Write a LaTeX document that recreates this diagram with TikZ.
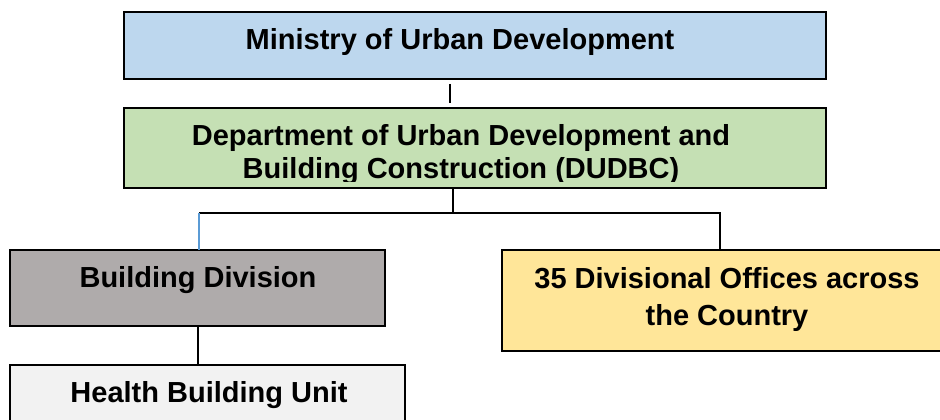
\documentclass[tikz,border=0pt]{standalone}
\usepackage{fontspec}
\setmainfont{Liberation Sans}
\definecolor{minblue}{HTML}{BDD7EE}
\definecolor{depgreen}{HTML}{C5E0B4}
\definecolor{divgray}{HTML}{AFABAB}
\definecolor{offyellow}{HTML}{FFE699}
\definecolor{unitgray}{HTML}{F2F2F2}
\definecolor{linkblue}{HTML}{5B9BD5}
\tikzset{
  orgbox/.style={draw=black, line width=2pt, inner sep=0pt, rectangle},
  orgtext/.style={font=\fontsize{29}{37}\selectfont\bfseries, align=center, inner sep=0pt, anchor=base},
  link/.style={line width=2pt, black},
}
\begin{document}
\begin{tikzpicture}[x=1pt,y=-1pt]
\useasboundingbox (0,0) rectangle (940,420);
\clip (0,0) rectangle (940,420);
% boxes
\node[orgbox, fill=minblue, minimum width=702pt, minimum height=67pt] (min) at (475,45.5) {};
\node[orgbox, fill=depgreen, minimum width=702pt, minimum height=80pt] (dep) at (475,148) {};
\node[orgbox, fill=divgray, minimum width=375pt, minimum height=76pt] (div) at (197.5,288) {};
\node[orgbox, fill=offyellow, minimum width=448pt, minimum height=101pt] (off) at (726,300.5) {};
\node[orgbox, fill=unitgray, minimum width=395pt, minimum height=65pt] (unit) at (207.5,397.5) {};
% texts
\node[orgtext] (mt) at (460,50) {Ministry of Urban Development};
\node[orgtext] (dt1) at (461,145) {Department of Urban Development and};
\begin{scope}
\clip (124,108) rectangle (826,181);
\node[orgtext] (dt2) at (461,178) {Building Construction (DUDBC)};
\end{scope}
\node[orgtext] (bt) at (198,287) {Building Division};
\node[orgtext] (ot1) at (727,288) {35 Divisional Offices across};
\node[orgtext] (ot2) at (727,325) {the Country};
\node[orgtext] (ht) at (209,402) {Health Building Unit};
% connector points
\coordinate (c1) at ([xshift=-25pt,yshift=-4pt]min.south);
\coordinate (c2) at ([xshift=-25pt,yshift=4pt]dep.north);
\coordinate (j) at ([xshift=-22pt,yshift=-24pt]dep.south);
\coordinate (br) at ([xshift=-6pt,yshift=-1pt]off.north);
\coordinate (jr) at (br |- j);
\coordinate (bl) at ([xshift=1.5pt,yshift=-1pt]div.north);
\coordinate (jl) at (bl |- j);
% connectors
\draw[link] (c1) -- (c2);
\draw[link] (dep.south -| j) -- (j);
\draw[link] (jl) -- (jr) -- (br);
\draw[line width=1.5pt, linkblue] (jl) -- (bl);
\draw[link] ([xshift=0.5pt]div.south) -- ([xshift=0.5pt]div.south |- unit.north);
\end{tikzpicture}
\end{document}
